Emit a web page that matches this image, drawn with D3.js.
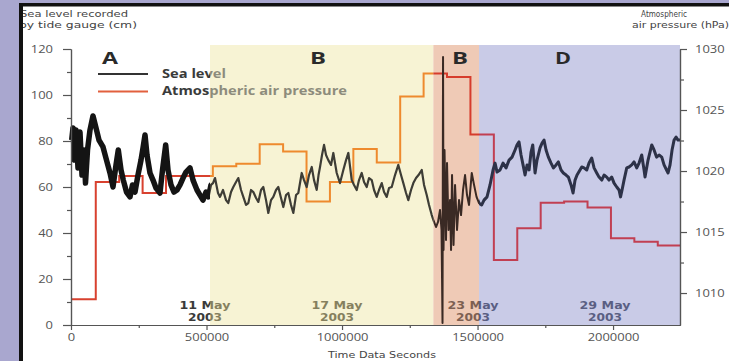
<!DOCTYPE html>
<html>
<head>
<meta charset="utf-8">
<script src="https://cdn.jsdelivr.net/npm/d3@7/dist/d3.min.js"></script>
<style>
  body { margin: 0; background: #a9a7cf; }
  svg { display: block; font-family: "Open Sans", sans-serif; }
</style>
</head>
<body>
<svg id="chart" width="729" height="361"></svg>
<script>
// sea level from the tide gauge: time (s) and level (cm)
const seaTime = [
  2600, 7400, 12900, 18500, 25800, 33200, 40600, 48000, 53500, 60900, 70100, 81200, 92300, 103300,
  118100, 131000, 143900, 155000, 166100, 174500, 184500, 193000, 204800, 217700, 227000, 236200,
  247200, 258300, 265700, 273100, 280400, 291500, 302600, 313600, 328400, 337600, 349400, 357900,
  369000, 380100, 391100, 402200, 413300, 424400, 439100, 450200, 464900, 476000, 487100, 498200,
  507400, 516600,
  524000, 531400, 542400, 549800, 560900, 572000, 580400, 590400, 598900, 608900, 617300, 627300,
  635800, 645800, 654300, 664300, 672800, 682800, 691200, 701100, 709600, 719600, 728000, 738000,
  746500, 756500, 765000, 774900, 783400, 793400, 801900, 811800, 820300, 830300, 838700, 851300,
  859800, 869700, 878200, 888200, 896700, 906600, 913300, 918800, 926200, 933600, 941000, 949400,
  959400, 967900, 974200, 980400, 992600, 1004800, 1014800, 1023300, 1035800, 1044300, 1054200,
  1062700, 1072700, 1081200, 1091100, 1099600, 1109600, 1118100, 1128000, 1136500, 1146500, 1155000,
  1164900, 1173400, 1183400, 1195500, 1207700, 1217700, 1226200, 1236200, 1244600, 1254600, 1263100,
  1273100, 1282300, 1294100, 1302600, 1312500, 1321000, 1331000, 1336900,
  1346800, 1354200, 1361600, 1367100, 1370800, 1372700, 1374500, 1378200, 1383700, 1387400, 1393000,
  1398500, 1402200, 1405900, 1411400, 1417000, 1424300, 1431700, 1439100, 1446500, 1453900, 1461200,
  1468600, 1478600, 1487100, 1496300, 1505500,
  1515400, 1523900, 1535000, 1546100, 1557200, 1564600, 1572000, 1583000, 1594100, 1605200, 1616300,
  1627300, 1638400, 1645800, 1653100, 1660500, 1667900, 1675300, 1682700, 1690100, 1697500, 1703700,
  1712200, 1719500, 1730600, 1738000, 1745400, 1752800, 1761300, 1771200, 1779800, 1789700, 1798200,
  1808100, 1816600, 1826600, 1835100, 1845000, 1852400, 1859800, 1867100, 1884500, 1893000, 1902900,
  1911400, 1921400, 1929900, 1939800, 1948300, 1958300, 1966800, 1976700, 1985200, 1995100, 2003700,
  2013600, 2022100, 2027600, 2033200, 2040500, 2050500, 2059000, 2068900, 2077400, 2087400, 2095900,
  2105800, 2114400, 2118000, 2129100, 2142800, 2151300, 2160500, 2169700, 2179700, 2188200, 2197400,
  2203000, 2210300, 2217700, 2225100, 2232500, 2239800, 2247000
];
const seaLevel = [
  80.4, 85.7, 71.7, 84.8, 68.3, 83.9, 65.2, 76.1, 61.7, 76.1, 84.8, 90.9, 85.7, 80.4,
  77.4, 71.7, 66.1, 60, 69.6, 76.1, 67.4, 63, 57.8, 55.7, 60.9, 57.8,
  65.2, 71.7, 77, 82.6, 73.9, 66.1, 63, 59.6, 57.4, 67.4, 78.3, 67.4,
  60.9, 57.8, 58.7, 60.9, 63.9, 66.5, 68.3, 63, 58.7, 56.5, 54.3, 57.8,
  55.7, 60.9,
  61.7, 63.9, 57.4, 55.7, 58.7, 54.3, 53, 57.8, 60, 62.2, 63.9, 58.7,
  55.7, 52.2, 53, 58.7, 57.8, 55.2, 53.5, 58.7, 60, 54.3, 48.7, 54.3,
  55.7, 58.7, 60, 55.2, 51.3, 56.5, 57.4, 52.2, 48.7, 56.5, 57.4, 66.1,
  63, 60, 65.2, 68.7, 63, 58.7, 65.2, 68.7, 73.9, 78.3, 73.9, 71.7,
  69.6, 74.8, 70.4, 66.1, 61.7, 67.4, 71.7, 74.8, 63, 60.9, 58.7,
  63, 66.1, 62.2, 60, 63.9, 63, 58.7, 55.7, 58.7, 61.7, 57.8,
  55.7, 59.6, 60, 65.2, 69.6, 65.2, 61.7, 57.4, 54.3, 58.7, 61.7,
  63.9, 65.2, 67.4, 60.9, 56.5, 52.2, 47.8, 45.7,
  42.6, 44.8, 50, 41.3, 0.9, 116.5, 32.6, 76.1, 37, 70.4, 41.3,
  54.3, 32.6, 65.2, 34.8, 60.9, 41.3, 54.3, 47.8, 58.7, 65.2, 56.5,
  52.2, 66.1, 60.9, 55.7, 53,
  52.2, 54.3, 55.7, 60.9, 67.4, 70.4, 66.5, 67.4, 70.4, 68.3, 71.7,
  73, 76.1, 78.3, 79.6, 73.9, 69.6, 65.2, 69.6, 67.4, 75.2, 78.3,
  66.1, 71.7, 77, 79.1, 80.4, 76.1, 73, 70.4, 68.3, 69.6, 70.9,
  67.4, 66.1, 65.2, 64.3, 60.9, 57.4, 63, 65.2, 68.7, 68.3, 67.4,
  70.4, 72.6, 68.3, 66.1, 64.3, 63, 65.2, 64.3, 63, 64.3, 61.7,
  60, 58.7, 55.7, 58.7, 63, 68.3, 68.7, 69.6, 70.9, 68.3, 70.4,
  73.9, 67.4, 64.3, 71.7, 78.3, 76.1, 73, 73.9, 73, 69.6, 67.4,
  66.1, 69.6, 76.1, 80.4, 81.7, 80.4, 80.4
];

// daily atmospheric pressure (hPa), each value held for one day
const pressureStart = 5000;
const pressureDaily = [
  1009.5, 1019.1, 1019.6, 1018.2, 1019.6, 1019.6, 1020.4, 1020.6, 1022.2, 1021.6, 1017.5, 1019.1, 1021.8,
  1020.7, 1026.1, 1028.0, 1027.7, 1023.0, 1012.7, 1015.3, 1017.4, 1017.5, 1017.0, 1014.5, 1014.2, 1013.9
];

const tEnd = 2247000;
const xTicks = [0, 500000, 1000000, 1500000, 2000000];
const xMinorTicks = [250000, 750000, 1250000, 1750000];
const seaTicks = [0, 20, 40, 60, 80, 100, 120];
const seaMinorTicks = [10, 30, 50, 70, 90, 110];
const pressureTicks = [1010, 1015, 1020, 1025, 1030];
const pressureMinorTicks = [1012.5, 1017.5, 1022.5, 1027.5];

// phases of the record and where they start (s)
const periodNames = ['A', 'B', 'B', 'D'];
const periodStart = [0, 512900, 1336900, 1505500];
const periodLabelAt = [144000, 911000, 1435000, 1815000];

const dateNames = ['11 May', '17 May', '23 May', '29 May'];
const dateYears = ['2003', '2003', '2003', '2003'];
const dateAt = [494500, 981500, 1483400, 1970500];

// look of each phase
const periodStyle = [
  { fill: null,      sea: '#141414', seaW: 5.5, press: '#d8412f', text: '#3a3a3a', date: '#3a3a3a' },
  { fill: '#f7f3d4', sea: '#3e3d36', seaW: 2.2, press: '#ee8a2e', text: '#8d8b7c', date: '#857f5e' },
  { fill: '#efcab6', sea: '#3a2a24', seaW: 2,   press: '#d63c2c', text: '#7a5a4c', date: '#7d5f52' },
  { fill: '#c9cbe7', sea: '#2d3248', seaW: 3,   press: '#c13f52', text: '#55597a', date: '#5a5e82' }
];

const W = 729, H = 361;
const svg = d3.select('#chart');

const x = d3.scaleLinear().domain([0, tEnd]).range([71, 680]);
const ySea = d3.scaleLinear().domain([0, 120]).range([325, 49]);
const yPress = d3.scaleLinear().domain([1007.38, 1030]).range([325, 49]);

// frame
svg.append('rect').attr('x', 19).attr('y', 3).attr('width', W - 19).attr('height', H - 3).attr('fill', '#111');
svg.append('rect').attr('x', 23).attr('y', 6.5).attr('width', W - 23).attr('height', H - 6.5).attr('fill', '#fff');

const defs = svg.append('defs');
defs.append('clipPath').attr('id', 'panel')
  .append('rect').attr('x', 23).attr('y', 6.5).attr('width', W - 23).attr('height', H - 6.5);

const periodEnd = periodStart.slice(1).concat([tEnd]);
const edgeLeft = periodStart.map((t, i) => i === 0 ? 0 : x(t));
const edgeRight = periodEnd.map((t, i) => i === periodEnd.length - 1 ? W : x(t));

// hard-stop gradients so one text can change colour at a phase edge
function bandGradient(id, key) {
  const lg = defs.append('linearGradient').attr('id', id)
    .attr('gradientUnits', 'userSpaceOnUse')
    .attr('x1', 0).attr('x2', W).attr('y1', 0).attr('y2', 0);
  periodStyle.forEach((st, i) => {
    lg.append('stop').attr('offset', edgeLeft[i] / W).attr('stop-color', st[key]);
    lg.append('stop').attr('offset', edgeRight[i] / W).attr('stop-color', st[key]);
  });
}
bandGradient('legendInk', 'text');
bandGradient('dateInk', 'date');

// shaded phases
svg.append('g').selectAll('rect')
  .data(d3.range(periodStart.length).filter(i => periodStyle[i].fill))
  .join('rect')
  .attr('x', i => x(periodStart[i]))
  .attr('y', 45)
  .attr('width', i => x(periodEnd[i]) - x(periodStart[i]))
  .attr('height', 325 - 45)
  .attr('fill', i => periodStyle[i].fill);

const seaLine = d3.line()
  .x(i => x(seaTime[i]))
  .y(i => ySea(seaLevel[i]));

const pressPts = pressureDaily.map((v, i) => [i === 0 ? 0 : pressureStart + i * 86400, v]);
pressPts.push([tEnd, pressureDaily[pressureDaily.length - 1]]);
const pressLine = d3.line()
  .x(d => x(d[0]))
  .y(d => yPress(d[1]))
  .curve(d3.curveStepAfter);

// stretch a text to a given width, the reference lettering is wide
function wide(sel, w) {
  sel.attr('textLength', w).attr('lengthAdjust', 'spacingAndGlyphs');
}

// the two series change colour and weight from one phase to the next
periodStart.forEach((t0, i) => {
  const st = periodStyle[i];
  defs.append('clipPath').attr('id', 'clip' + i)
    .append('rect').attr('x', edgeLeft[i]).attr('y', 0)
    .attr('width', edgeRight[i] - edgeLeft[i]).attr('height', H);

  const g = svg.append('g').attr('clip-path', `url(#clip${i})`);

  g.append('path')
    .attr('d', pressLine(pressPts))
    .attr('fill', 'none')
    .attr('stroke', st.press)
    .attr('stroke-width', 2);

  g.append('path')
    .attr('d', seaLine(d3.range(seaTime.length)))
    .attr('fill', 'none')
    .attr('stroke', st.sea)
    .attr('stroke-width', st.seaW)
    .attr('stroke-linejoin', 'round');
});

// legend
svg.append('line').attr('x1', 98).attr('x2', 148).attr('y1', 74).attr('y2', 74)
  .attr('stroke', '#333').attr('stroke-width', 2);
svg.append('line').attr('x1', 98).attr('x2', 148).attr('y1', 91.5).attr('y2', 91.5)
  .attr('stroke', '#e2603e').attr('stroke-width', 2);
const lgText = svg.append('g').attr('font-size', 11.5).attr('font-weight', 700).attr('fill', 'url(#legendInk)');
lgText.append('text').attr('x', 162).attr('y', 77.5).text('Sea level').call(wide, 64);
lgText.append('text').attr('x', 162).attr('y', 95).text('Atmospheric air pressure').call(wide, 185);

// dates under the curves
const dg = svg.append('g').attr('font-family', '"DejaVu Sans", sans-serif')
  .attr('font-size', 10).attr('font-weight', 700)
  .attr('fill', 'url(#dateInk)').attr('text-anchor', 'middle');
dg.selectAll('text.day').data(dateNames).join('text').attr('class', 'day')
  .attr('x', (d, k) => x(dateAt[k])).attr('y', 308.5).text(d => d).call(wide, 51);
dg.selectAll('text.year').data(dateYears).join('text').attr('class', 'year')
  .attr('x', (d, k) => x(dateAt[k])).attr('y', 320.5).text(d => d).call(wide, 34);

// phase letters
svg.append('g').attr('font-weight', 700).attr('font-size', 16).attr('fill', '#2a2a2a')
  .attr('text-anchor', 'middle')
  .selectAll('text').data(periodNames).join('text')
  .attr('x', (d, i) => x(periodLabelAt[i]))
  .attr('y', 64)
  .text(d => d)
  .call(wide, 16);

// axes
function styleAxis(g) {
  g.select('.domain').attr('stroke', '#555').attr('stroke-width', 1.2);
  g.selectAll('.tick line').attr('stroke', '#555').attr('stroke-width', 1.2);
  g.selectAll('.tick text')
    .attr('fill', '#555')
    .attr('font-size', 10.5)
    .attr('font-family', '"Open Sans", sans-serif')
    .each(function (d) {
      d3.select(this).attr('textLength', String(d).length * 7.4).attr('lengthAdjust', 'spacingAndGlyphs');
    });
}

svg.append('g').attr('transform', 'translate(0,325)')
  .call(d3.axisBottom(x).tickValues(xMinorTicks).tickSize(3).tickSizeOuter(0).tickFormat(''))
  .call(styleAxis);
svg.append('g').attr('transform', 'translate(0,325)')
  .call(d3.axisBottom(x).tickValues(xTicks).tickSize(5).tickSizeOuter(0).tickPadding(4).tickFormat(d3.format('d')))
  .call(styleAxis);

svg.append('g').attr('transform', 'translate(71,0)')
  .call(d3.axisLeft(ySea).tickValues(seaMinorTicks).tickSize(4).tickSizeOuter(0).tickFormat(''))
  .call(styleAxis);
svg.append('g').attr('transform', 'translate(71,0)')
  .call(d3.axisLeft(ySea).tickValues(seaTicks).tickSize(8).tickSizeOuter(0).tickPadding(10).tickFormat(d3.format('d')))
  .call(styleAxis);

svg.append('g').attr('transform', 'translate(680,0)')
  .call(d3.axisRight(yPress).tickValues(pressureMinorTicks).tickSize(4).tickSizeOuter(0).tickFormat(''))
  .call(styleAxis);
svg.append('g').attr('transform', 'translate(680,0)')
  .call(d3.axisRight(yPress).tickValues(pressureTicks).tickSize(7).tickSizeOuter(0).tickPadding(8).tickFormat(d3.format('d')))
  .call(styleAxis);

// titles
const tg = svg.append('g').attr('clip-path', 'url(#panel)').attr('fill', '#444')
  .attr('font-family', '"DejaVu Sans", sans-serif').attr('font-size', 8.5);
tg.append('text').attr('x', 20).attr('y', 17).text('Sea level recorded').call(wide, 108);
tg.append('text').attr('x', 19).attr('y', 27.5).text('by tide gauge (cm)').call(wide, 118);
tg.append('text').attr('x', 664).attr('y', 16.5).attr('text-anchor', 'middle').text('Atmospheric').call(wide, 46);
tg.append('text').attr('x', 632).attr('y', 27.5).text('air pressure (hPa)').call(wide, 97);
tg.append('text').attr('x', 382).attr('y', 357.5).attr('text-anchor', 'middle')
  .attr('font-size', 9).text('Time Data Seconds').call(wide, 108);
</script>
</body>
</html>
